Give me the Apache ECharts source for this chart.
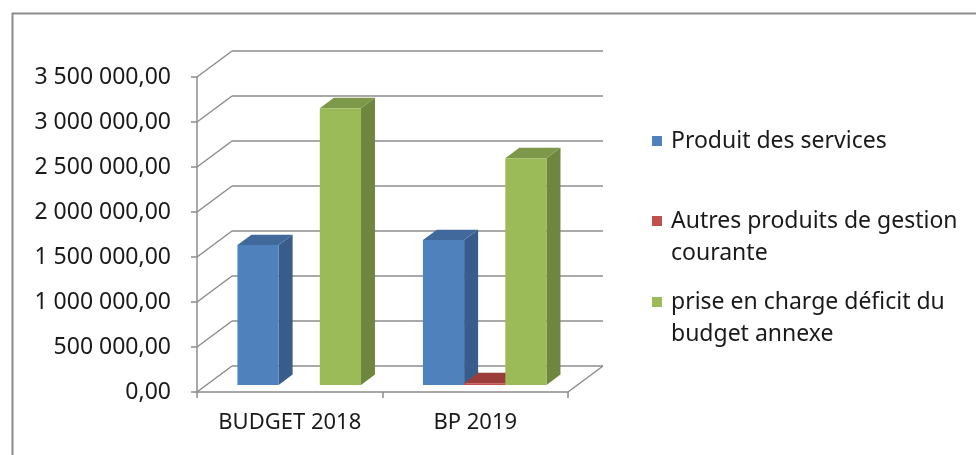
<!DOCTYPE html>
<html>
<head>
<meta charset="utf-8">
<script src="https://cdn.jsdelivr.net/npm/echarts@6/dist/echarts.min.js"></script>
<style>
  html, body { margin: 0; padding: 0; background: #fff; }
  #main { width: 976px; height: 455px; }
</style>
</head>
<body>
<div id="main"></div>
<script>
var categories = ['BUDGET 2018', 'BP 2019']
var seriesNames = ['Produit des services', 'Autres produits de gestion\ncourante', 'prise en charge déficit du\nbudget annexe']
var produitServices = [1555000, 1610000]
var autresProduits = [0, 20000]
var priseEnCharge = [3075000, 2520000]
var yTicks = [0, 500000, 1000000, 1500000, 2000000, 2500000, 3000000, 3500000]

// 3D look: depth of the back wall, in pixels
var DX = 35
var DY = -26
var FONT = 'Noto Sans'

function fmt (v) {
  var s = String(Math.round(v)).replace(/\B(?=(\d{3})+(?!\d))/g, ' ')
  return s + ',00'
}

function wallRenderer (params, api) {
  var cs = params.coordSys
  var v = api.value(0)
  var y = api.coord([0, v])[1]
  var x0 = cs.x
  var x1 = cs.x + cs.width
  var st = { stroke: '#8c8c8c', lineWidth: 1.5 }
  var kids = [
    { type: 'line', shape: { x1: x0 + DX, y1: y + DY, x2: x1 + DX, y2: y + DY }, style: st },
    { type: 'line', shape: { x1: x0, y1: y, x2: x0 + DX, y2: y + DY }, style: st }
  ]
  if (v === 0) {
    kids.push({ type: 'line', shape: { x1: x1, y1: y, x2: x1 + DX, y2: y + DY }, style: st })
  }
  return { type: 'group', children: kids }
}

function barRenderer (k, front, side, top) {
  return function (params, api) {
    var cat = api.value(0)
    var val = api.value(1)
    if (!val) return null
    var p = api.coord([cat, val])
    var b = api.coord([cat, 0])
    var band = api.size([1, 0])[0]
    var bw = band * 0.222
    var x0 = p[0] - 1.5 * bw + k * bw + DX * 0.27
    var yTop = p[1] + DY * 0.27
    var yBot = b[1] + DY * 0.27
    var dx = DX * 0.4
    var dy = DY * 0.4
    return {
      type: 'group',
      children: [
        { type: 'polygon', shape: { points: [[x0 + bw, yTop], [x0 + bw + dx, yTop + dy], [x0 + bw + dx, yBot + dy], [x0 + bw, yBot]] }, style: { fill: side } },
        { type: 'polygon', shape: { points: [[x0, yTop], [x0 + dx, yTop + dy], [x0 + bw + dx, yTop + dy], [x0 + bw, yTop]] }, style: { fill: top } },
        { type: 'rect', shape: { x: x0, y: yTop, width: bw, height: yBot - yTop }, style: { fill: front } }
      ]
    }
  }
}

function toData (arr) {
  return arr.map(function (v, i) { return [i, v] })
}

var colors = [
  ['#4F81BD', '#385D8A', '#41699c'],
  ['#C0504D', '#8c3836', '#9b3d3a'],
  ['#9BBB59', '#6E863D', '#7c9848']
]
var values = [produitServices, autresProduits, priseEnCharge]

var series = [{
  type: 'custom',
  name: 'wall',
  z: 1,
  silent: true,
  renderItem: wallRenderer,
  encode: { y: 0 },
  data: yTicks.map(function (v) { return [v] })
}]
values.forEach(function (arr, k) {
  series.push({
    type: 'custom',
    name: seriesNames[k],
    z: 2 + k,
    renderItem: barRenderer(k, colors[k][0], colors[k][1], colors[k][2]),
    encode: { x: 0, y: 1 },
    data: toData(arr)
  })
})

// legend drawn as graphic so the marker sits on the first text line
var legendTop = [141, 221, 302]
var legendItems = []
seriesNames.forEach(function (name, k) {
  legendItems.push({ type: 'rect', left: 652, top: legendTop[k] - 5, shape: { width: 10, height: 10 }, style: { fill: colors[k][0] } })
  legendItems.push({ type: 'text', left: 671, top: legendTop[k] - 16, style: { text: name, font: '23px "' + FONT + '"', lineHeight: 32, fill: '#1a1a1a' } })
})

var chart = echarts.init(document.getElementById('main'))
chart.setOption({
  animation: false,
  grid: { left: 197, right: 408, top: 77, bottom: 63 },
  xAxis: {
    type: 'category',
    data: categories,
    axisLine: { lineStyle: { color: '#8c8c8c', width: 1.5 } },
    axisTick: { show: true, length: 6, lineStyle: { color: '#8c8c8c', width: 1.5 } },
    axisLabel: { interval: 0, color: '#1a1a1a', fontFamily: FONT, fontSize: 22, margin: 20 }
  },
  yAxis: {
    type: 'value',
    min: 0,
    max: 3500000,
    interval: 500000,
    axisLine: { show: true, lineStyle: { color: '#8c8c8c', width: 1.5 } },
    axisTick: { show: true, length: 6, lineStyle: { color: '#8c8c8c', width: 1.5 } },
    splitLine: { show: false },
    axisLabel: { color: '#1a1a1a', fontFamily: FONT, fontSize: 23, margin: 26, formatter: fmt }
  },
  graphic: [
    { type: 'rect', left: 10, top: 11, shape: { width: 1000, height: 500 }, style: { fill: 'none', stroke: '#8c8c8c', lineWidth: 2 } }
  ].concat(legendItems),
  series: series
})
</script>
</body>
</html>
